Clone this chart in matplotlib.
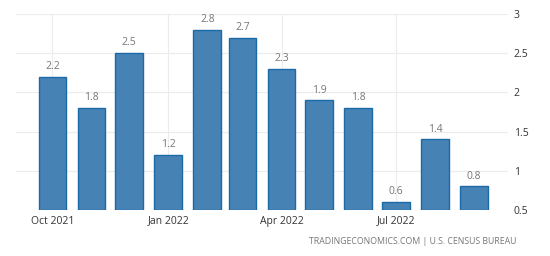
import matplotlib
matplotlib.use("Agg")
import matplotlib.pyplot as plt
import matplotlib.dates as mdates
import datetime as dt

months = ["2021-10", "2021-11", "2021-12", "2022-01", "2022-02", "2022-03",
          "2022-04", "2022-05", "2022-06", "2022-07", "2022-08", "2022-09"]
values = [2.2, 1.8, 2.5, 1.2, 2.8, 2.7, 2.3, 1.9, 1.8, 0.6, 1.4, 0.8]
tick_months = ["2021-10", "2022-01", "2022-04", "2022-07"]
tick_labels = ["Oct 2021", "Jan 2022", "Apr 2022", "Jul 2022"]
yticks = [0.5, 1, 1.5, 2, 2.5, 3]
ytick_labels = ["0.5", "1", "1.5", "2", "2.5", "3"]
source = "TRADINGECONOMICS.COM | U.S. CENSUS BUREAU"

def to_date(s):
    y, m = s.split("-")
    return dt.date(int(y), int(m), 1)

plt.rcParams['font.family'] = ['Open Sans', 'DejaVu Sans']

fig = plt.figure(figsize=(5.5, 2.56), dpi=100)
ax = fig.add_axes([16/550, 1-210/256, (508-16)/550, (210-14)/256])

dates = [mdates.date2num(to_date(m)) for m in months]
base = 0.5
ax.bar(dates, [v - base for v in values], bottom=base, width=22,
       color="#4682b4", edgecolor="#1a6aa8", linewidth=1.0, zorder=3)

for d, v in zip(dates, values):
    ax.text(d, v + 0.06, f"{v:g}", ha="center", va="bottom",
            fontsize=7.5, color="#777777", zorder=4)

ax.set_ylim(0.5, 3)
ax.set_xlim(mdates.date2num(dt.date(2021, 9, 2)), mdates.date2num(dt.date(2022, 9, 28)))
ax.set_yticks(yticks)
ax.set_yticklabels(ytick_labels)
ax.set_xticks([mdates.date2num(to_date(m)) for m in tick_months])
ax.set_xticklabels(tick_labels)
ax.yaxis.tick_right()
ax.tick_params(axis="both", length=0, labelsize=7.5, colors="#333333")
ax.tick_params(axis="y", pad=4)
ax.tick_params(axis="x", pad=4)
ax.grid(True, color="#ececec", linewidth=0.8, zorder=0)
for s in ax.spines.values():
    s.set_visible(False)

fig.text(516/550, 1-242/256, source, ha="right", va="center",
         fontsize=6.3, color="#777777")

fig.savefig("out.png", dpi=100)
